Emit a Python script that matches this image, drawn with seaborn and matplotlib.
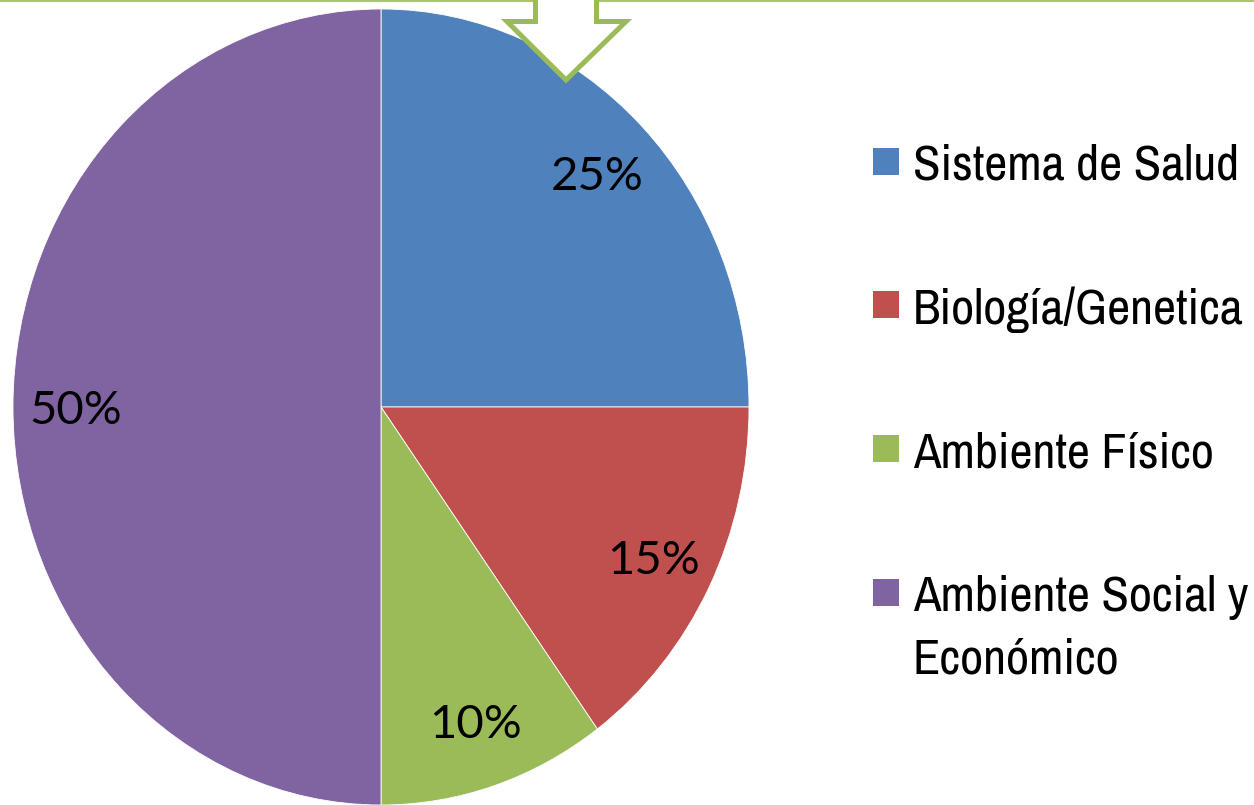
import matplotlib
matplotlib.use("Agg")
import matplotlib.pyplot as plt
import seaborn as sns
from matplotlib import font_manager as fm
from matplotlib.patches import Polygon, Rectangle
from matplotlib.lines import Line2D

labels = ["Sistema de Salud", "Biología/Genetica", "Ambiente Físico",
          "Ambiente Social y\nEconómico"]
values = [25, 15, 10, 50]
colors = ["#4F81BD", "#C0504D", "#9BBB59", "#8064A2"]

sns.set_theme(style="white")
plt.rcParams["font.family"] = ["Liberation Sans", "DejaVu Sans"]
plt.rcParams["text.color"] = "black"

# the legend in the reference is set in a narrow sans; use one if present
names = sorted({f.name for f in fm.fontManager.ttflist})
narrow = [n for n in names if ("Narrow" in n or "Condensed" in n) and "Mono" not in n
          and "Serif" not in n]
leg_family = narrow[0] if narrow else "Liberation Sans"

W, H = 1254, 805
fig = plt.figure(figsize=(W / 100, H / 100), dpi=100)
ax = fig.add_axes([0, 0, 1, 1])

cx, cy, rx, ry = 381, 407, 368, 398  # pie centre / radii in pixels

wedges, texts, autotexts = ax.pie(
    values, colors=sns.color_palette(colors), startangle=90, counterclock=False,
    autopct="%d%%", pctdistance=0.83,
    wedgeprops=dict(edgecolor="white", linewidth=0.6),
    textprops=dict(fontsize=34, family=["Lato", "DejaVu Sans"], color="black"),
)
for t in autotexts:
    t.set_va("center_baseline")
ax.set_aspect("auto")
ax.set_xlim(-cx / rx, (W - cx) / rx)
ax.set_ylim(-(H - cy) / ry, cy / ry)
ax.axis("off")

# pick a legend size that fits the width the reference uses (~330 px)
renderer = fig.canvas.get_renderer()
probe = fig.text(0, 0, "Biología/Genetica", fontsize=20, family=leg_family)
wid = probe.get_window_extent(renderer).width
probe.remove()
leg_size = min(38, 20 * 330 / wid)

# legend, drawn by hand so the two-line entry keeps its key on the first line
base0, step, gap = 180, 143.5, 63
for i, (lab, col) in enumerate(zip(labels, colors)):
    base = base0 + i * step
    fig.add_artist(Rectangle((873 / W, 1 - (base - 5) / H), 26 / W, 27 / H,
                             facecolor=col, edgecolor="none",
                             transform=fig.transFigure))
    for k, line in enumerate(lab.split("\n")):
        fig.text(913 / W, 1 - (base + k * gap) / H, line, fontsize=leg_size,
                 family=leg_family, va="baseline", ha="left", color="black")

# top rule and hollow arrow
green = "#9BBB59"
fig.add_artist(Line2D([0, 1], [1 - 1 / H, 1 - 1 / H], color="#A8C76B", lw=1.5,
                      transform=fig.transFigure))
arrow = [(535.5, -10), (535.5, 21.5), (507, 21.5), (566, 80), (626, 21.5),
         (596.5, 21.5), (596.5, -10)]
fig.add_artist(Polygon([(x / W, 1 - y / H) for x, y in arrow], closed=False,
                       facecolor="white", edgecolor=green, lw=3.6, joinstyle="miter",
                       transform=fig.transFigure, zorder=5))

fig.savefig("out.png", dpi=100)
